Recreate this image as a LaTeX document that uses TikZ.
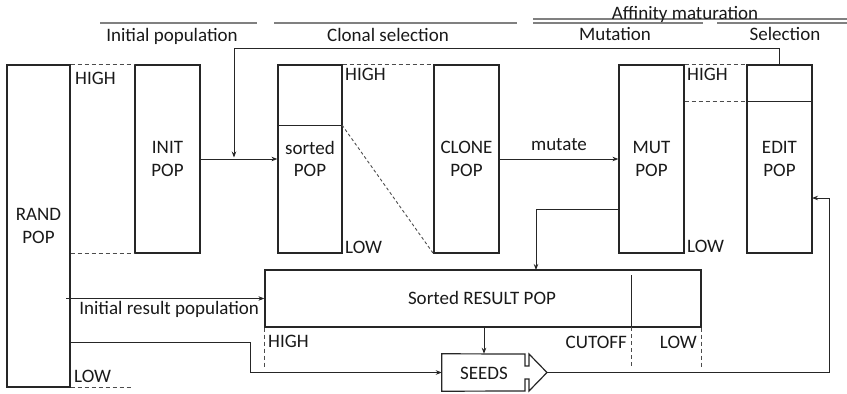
\documentclass[tikz,border=0pt]{standalone}
\usepackage{fontspec}
\setmainfont{Carlito}
\usetikzlibrary{arrows.meta,calc}
\begin{document}
\begin{tikzpicture}[x=1pt,y=-1pt,
  font=\fontsize{19}{22.5}\selectfont,
  box/.style={draw=black!85, line width=1.2pt, align=center, inner sep=0pt, text=black!90},
  lbl/.style={inner sep=0pt, text height=12pt, text depth=0pt, text=black!90},
  conn/.style={line width=0.9pt, draw=black!85},
  arr/.style={conn, -{Stealth[length=6pt,width=4.5pt]}},
  dsh/.style={line width=0.9pt, draw=black!70, dash pattern=on 4pt off 3pt},
  hdr/.style={line width=1.8pt, draw=black!50},
]
\useasboundingbox (0,0) rectangle (847,394);

% header lines and titles
\draw[hdr] (100,23) -- (257,23);
\draw[hdr] (274,23) -- (517,23);
\draw[hdr] (533,19) -- (847,19);
\draw[hdr] (533,23) -- (703,23);
\draw[hdr] (717,23) -- (847,23);
\node[lbl] (tinit) at (172,35) {Initial population};
\node[lbl] (tclon) at (388,35) {Clonal selection};
\node[lbl] (taff) at (685,13) {Affinity maturation};
\node[lbl] (tmut) at (615,34) {Mutation};
\node[lbl] (tsel) at (785,34) {Selection};

% boxes
\node[box, minimum width=63pt, minimum height=322pt] (rand) at (38.5,226) {RAND\\POP};
\node[box, minimum width=65pt, minimum height=188pt] (init) at (167.5,159) {INIT\\POP};
\node[box, minimum width=64pt, minimum height=188pt] (sorted) at (310,159) {sorted\\POP};
\node[box, minimum width=65pt, minimum height=188pt] (clone) at (466.5,159) {CLONE\\POP};
\node[box, minimum width=65pt, minimum height=188pt] (mut) at (651.5,159) {MUT\\POP};
\node[box, minimum width=65pt, minimum height=188pt] (edit) at (779.5,159) {EDIT\\POP};
\node[box, minimum width=436pt, minimum height=57pt] (result) at (483,298.5) {};
\node[lbl] (tres) at (482,298) {Sorted RESULT POP};

% dividers
\coordinate (sdivL) at (278,125);
\coordinate (sdivR) at (342,125);
\draw[conn] (sdivL) -- (sdivR);
\coordinate (edivL) at (747,101);
\coordinate (edivR) at (812,101);
\draw[conn] (edivL) -- (edivR);
\coordinate (cutT) at (631,275);
\coordinate (cutB) at (631,327);
\draw[conn] (cutT) -- (cutB);

% SEEDS
\node[lbl, minimum width=84pt, minimum height=37pt, text height=, text depth=] (seeds) at (484,372.5) {};
\node[lbl] (tseeds) at (484,373) {SEEDS};
\coordinate (seedtip) at (547,372.5);
\draw[box] (seeds.north west) -- (525,354) -- (525,366) -- (529,366) -- (529,354) -- (seedtip)
  -- (529,391) -- (529,379) -- (525,379) -- (525,391) -- (seeds.south west) -- cycle;

% dashed guides
\draw[dsh] (rand.north east) -- (init.north west);
\draw[dsh] (rand.east |- init.south) -- (init.south west);
\draw[dsh] (sorted.north east) -- (clone.north west);
\draw[dsh, dash pattern=on 3pt off 2.5pt] (sdivR) -- (clone.south west);
\draw[dsh] (mut.north east) -- (edit.north west);
\draw[dsh] (mut.east |- edivL) -- (edivL);
\draw[dsh] (rand.south east) -- ++(62,0);
\draw[dsh] (result.south west) -- ++(0,41);
\draw[dsh] (cutB) -- ++(0,41);
\draw[dsh] (result.south east) -- ++(0,41);

% labels
\node[lbl, anchor=west] (h1) at (75,78) {HIGH};
\node[lbl, anchor=west] (l1) at (74,376) {LOW};
\node[lbl, anchor=west] (h2) at (345,74) {HIGH};
\node[lbl, anchor=west] (l2) at (345,247) {LOW};
\node[lbl, anchor=west] (h3) at (687,74) {HIGH};
\node[lbl, anchor=west] (l3) at (687,246) {LOW};
\node[lbl, anchor=west] (h4) at (268,341) {HIGH};
\node[lbl, anchor=east] (cut) at (627,342) {CUTOFF};
\node[lbl, anchor=east] (l4) at (697,342) {LOW};

% connectors
\draw[arr] (init.east) -- (sorted.west);
\coordinate (fbtop) at (234,48);
\coordinate (fbend) at (234,157.5);
\draw[arr] (edit.north) |- (fbtop) -- (fbend);
\draw[arr] (clone.east) -- node[lbl, above=8pt] (tmutate) {mutate} (mut.west);
\coordinate (mutout) at (619,209);
\coordinate (resin) at (536,270);
\draw[arr] (mutout) -| (resin);
\coordinate (randout1) at (66,298.5);
\draw[arr] (randout1) -- node[lbl, pos=0.52, below=4pt] (tinitres) {Initial result population} (result.west);
\coordinate (randout2) at (70.5,342);
\coordinate (bend2) at (250,342);
\draw[arr] (randout2) -- (bend2) |- (seeds.west);
\draw[arr] (seeds.north |- result.south) -- (seeds.north);
\coordinate (fb2) at (829,372.5);
\coordinate (editin) at (812,198);
\draw[arr] (seedtip) -- (fb2) |- (editin);
\end{tikzpicture}
\end{document}
